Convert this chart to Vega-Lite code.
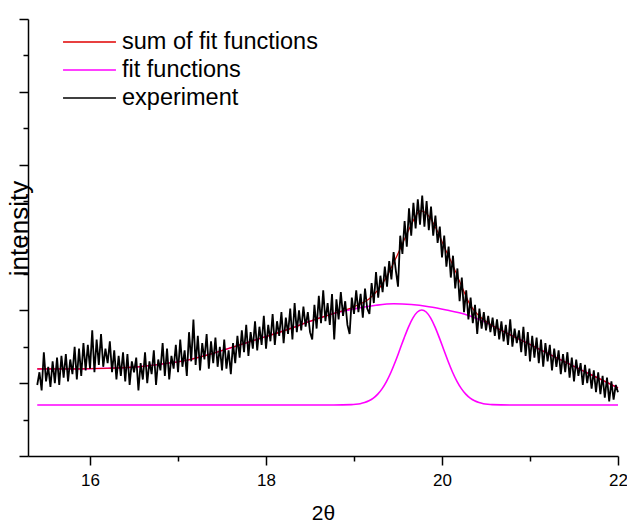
{
"$schema": "https://vega.github.io/schema/vega-lite/v6.json",
"width": 590, "height": 437,
"autosize": "none",
"padding": {"left": 28, "top": 19, "right": 9, "bottom": 67},
"background": "white",
"config": {
  "view": {"stroke": null},
  "font": "Liberation Sans",
  "axis": {"grid": false, "domainColor": "black", "tickColor": "black", "labelColor": "black", "titleColor": "black", "domainWidth": 1.5, "tickWidth": 1.5, "titleFontWeight": "normal", "labelFont": "Liberation Sans", "titleFont": "Liberation Sans"}
},
"datasets": {
  "broad": [
    {"x":15.40,"y":2.39},{"x":15.80,"y":2.39},{"x":16.20,"y":2.41},{"x":16.50,"y":2.44},{"x":16.80,"y":2.52},{"x":17.10,"y":2.63},{"x":17.40,"y":2.82},{"x":17.70,"y":3.05},{"x":18.00,"y":3.28},{"x":18.30,"y":3.52},{"x":18.50,"y":3.70},{"x":18.75,"y":3.90},{"x":19.00,"y":4.04},{"x":19.25,"y":4.14},{"x":19.45,"y":4.18},{"x":19.65,"y":4.16},{"x":19.85,"y":4.10},{"x":20.05,"y":4.01},{"x":20.25,"y":3.90},{"x":20.43,"y":3.74},{"x":20.70,"y":3.42},{"x":21.00,"y":3.06},{"x":21.30,"y":2.70},{"x":21.60,"y":2.34},{"x":21.80,"y":2.11},{"x":22.00,"y":1.87}
  ],
  "narrow": [
    {"x":15.40,"y":1.40},{"x":18.77,"y":1.40},{"x":18.97,"y":1.41},{"x":19.02,"y":1.42},{"x":19.07,"y":1.437},{"x":19.12,"y":1.467},{"x":19.17,"y":1.515},{"x":19.22,"y":1.589},{"x":19.27,"y":1.698},{"x":19.32,"y":1.850},{"x":19.37,"y":2.051},{"x":19.42,"y":2.301},{"x":19.47,"y":2.595},{"x":19.52,"y":2.917},{"x":19.57,"y":3.244},{"x":19.62,"y":3.547},{"x":19.67,"y":3.793},{"x":19.72,"y":3.954},{"x":19.77,"y":4.01},{"x":19.82,"y":3.954},{"x":19.87,"y":3.793},{"x":19.92,"y":3.547},{"x":19.97,"y":3.244},{"x":20.02,"y":2.917},{"x":20.07,"y":2.595},{"x":20.12,"y":2.301},{"x":20.17,"y":2.051},{"x":20.22,"y":1.850},{"x":20.27,"y":1.698},{"x":20.32,"y":1.589},{"x":20.37,"y":1.515},{"x":20.42,"y":1.467},{"x":20.47,"y":1.437},{"x":20.52,"y":1.42},{"x":20.57,"y":1.41},{"x":20.77,"y":1.40},{"x":22.00,"y":1.40}
  ],
  "sum": [
    {"x":15.40,"y":2.39},{"x":15.80,"y":2.39},{"x":16.20,"y":2.41},{"x":16.50,"y":2.44},{"x":16.80,"y":2.52},{"x":17.10,"y":2.63},{"x":17.40,"y":2.82},{"x":17.70,"y":3.05},{"x":18.00,"y":3.28},{"x":18.30,"y":3.52},{"x":18.50,"y":3.70},{"x":18.75,"y":3.90},{"x":19.00,"y":4.10},{"x":19.18,"y":4.33},{"x":19.28,"y":4.58},{"x":19.37,"y":4.92},{"x":19.47,"y":5.40},{"x":19.56,"y":5.88},{"x":19.65,"y":6.35},{"x":19.70,"y":6.58},{"x":19.75,"y":6.73},{"x":19.80,"y":6.70},{"x":19.87,"y":6.52},{"x":19.94,"y":6.21},{"x":20.03,"y":5.72},{"x":20.13,"y":5.20},{"x":20.22,"y":4.68},{"x":20.32,"y":4.15},{"x":20.42,"y":3.85},{"x":20.52,"y":3.66},{"x":20.70,"y":3.42},{"x":21.00,"y":3.06},{"x":21.30,"y":2.70},{"x":21.60,"y":2.34},{"x":21.80,"y":2.11},{"x":22.00,"y":1.87}
  ],
  "exp": [
    {"x":15.400,"y":1.95},{"x":15.425,"y":2.30},{"x":15.450,"y":1.80},{"x":15.475,"y":2.85},{"x":15.500,"y":2.05},{"x":15.525,"y":2.45},{"x":15.550,"y":1.90},{"x":15.575,"y":2.60},{"x":15.600,"y":2.00},{"x":15.625,"y":2.70},
    {"x":15.650,"y":1.95},{"x":15.675,"y":2.75},{"x":15.700,"y":2.15},{"x":15.725,"y":2.80},{"x":15.750,"y":2.05},{"x":15.775,"y":2.65},{"x":15.800,"y":2.25},{"x":15.825,"y":3.00},{"x":15.850,"y":2.10},{"x":15.875,"y":2.95},
    {"x":15.900,"y":2.20},{"x":15.925,"y":3.10},{"x":15.950,"y":2.35},{"x":15.975,"y":3.05},{"x":16.000,"y":2.40},{"x":16.025,"y":3.45},{"x":16.050,"y":2.30},{"x":16.075,"y":3.20},{"x":16.100,"y":2.50},{"x":16.125,"y":3.35},
    {"x":16.150,"y":2.45},{"x":16.175,"y":2.95},{"x":16.200,"y":2.55},{"x":16.225,"y":3.15},{"x":16.250,"y":2.30},{"x":16.275,"y":2.90},{"x":16.300,"y":2.10},{"x":16.325,"y":2.75},{"x":16.350,"y":2.20},{"x":16.375,"y":2.85},
    {"x":16.400,"y":2.05},{"x":16.425,"y":2.80},{"x":16.450,"y":1.95},{"x":16.475,"y":2.60},{"x":16.500,"y":2.30},{"x":16.525,"y":2.70},{"x":16.550,"y":1.80},{"x":16.575,"y":2.55},{"x":16.600,"y":2.10},{"x":16.625,"y":2.85},
    {"x":16.650,"y":2.00},{"x":16.675,"y":2.60},{"x":16.700,"y":2.25},{"x":16.725,"y":2.90},{"x":16.750,"y":1.95},{"x":16.775,"y":2.65},{"x":16.800,"y":2.35},{"x":16.825,"y":3.10},{"x":16.850,"y":2.20},{"x":16.875,"y":2.95},
    {"x":16.900,"y":2.10},{"x":16.925,"y":2.75},{"x":16.950,"y":2.40},{"x":16.975,"y":3.05},{"x":17.000,"y":2.30},{"x":17.025,"y":3.20},{"x":17.050,"y":2.45},{"x":17.075,"y":2.90},{"x":17.100,"y":2.20},{"x":17.125,"y":3.40},
    {"x":17.150,"y":2.60},{"x":17.175,"y":3.75},{"x":17.200,"y":2.50},{"x":17.225,"y":3.30},{"x":17.250,"y":2.35},{"x":17.275,"y":3.10},{"x":17.300,"y":2.65},{"x":17.325,"y":3.35},{"x":17.350,"y":2.40},{"x":17.375,"y":3.15},
    {"x":17.400,"y":2.55},{"x":17.425,"y":3.25},{"x":17.450,"y":2.45},{"x":17.475,"y":3.00},{"x":17.500,"y":2.35},{"x":17.525,"y":3.20},{"x":17.550,"y":2.40},{"x":17.575,"y":2.90},{"x":17.600,"y":2.25},{"x":17.625,"y":3.10},
    {"x":17.650,"y":2.55},{"x":17.675,"y":3.30},{"x":17.700,"y":2.70},{"x":17.725,"y":3.45},{"x":17.750,"y":2.85},{"x":17.775,"y":3.60},{"x":17.800,"y":2.75},{"x":17.825,"y":3.40},{"x":17.850,"y":2.95},{"x":17.875,"y":3.70},
    {"x":17.900,"y":2.90},{"x":17.925,"y":3.55},{"x":17.950,"y":3.05},{"x":17.975,"y":3.85},{"x":18.000,"y":2.95},{"x":18.025,"y":3.60},{"x":18.050,"y":3.15},{"x":18.075,"y":3.90},{"x":18.100,"y":3.05},{"x":18.125,"y":3.70},
    {"x":18.150,"y":3.30},{"x":18.175,"y":3.95},{"x":18.200,"y":3.10},{"x":18.225,"y":3.80},{"x":18.250,"y":3.35},{"x":18.275,"y":4.05},{"x":18.300,"y":3.20},{"x":18.325,"y":4.20},{"x":18.350,"y":3.40},{"x":18.375,"y":4.00},
    {"x":18.400,"y":3.45},{"x":18.425,"y":4.10},{"x":18.450,"y":3.55},{"x":18.475,"y":3.95},{"x":18.500,"y":3.40},{"x":18.525,"y":3.20},{"x":18.550,"y":4.15},{"x":18.575,"y":3.50},{"x":18.600,"y":4.40},{"x":18.625,"y":3.65},
    {"x":18.650,"y":4.55},{"x":18.675,"y":3.70},{"x":18.700,"y":4.20},{"x":18.725,"y":3.60},{"x":18.750,"y":4.45},{"x":18.775,"y":3.20},{"x":18.800,"y":4.30},{"x":18.825,"y":3.75},{"x":18.850,"y":4.50},{"x":18.875,"y":3.85},
    {"x":18.900,"y":4.25},{"x":18.925,"y":3.60},{"x":18.950,"y":3.35},{"x":18.975,"y":4.35},{"x":19.000,"y":3.90},{"x":19.025,"y":4.55},{"x":19.050,"y":3.95},{"x":19.075,"y":4.45},{"x":19.100,"y":3.80},{"x":19.125,"y":4.60},
    {"x":19.150,"y":4.05},{"x":19.175,"y":3.90},{"x":19.200,"y":4.75},{"x":19.225,"y":4.20},{"x":19.250,"y":5.05},{"x":19.275,"y":4.35},{"x":19.300,"y":4.95},{"x":19.325,"y":4.50},{"x":19.350,"y":5.20},{"x":19.375,"y":4.65},
    {"x":19.400,"y":5.35},{"x":19.425,"y":4.85},{"x":19.450,"y":5.60},{"x":19.475,"y":5.10},{"x":19.500,"y":4.65},{"x":19.525,"y":6.05},{"x":19.550,"y":5.55},{"x":19.575,"y":6.45},{"x":19.600,"y":5.75},{"x":19.625,"y":6.80},
    {"x":19.650,"y":6.05},{"x":19.675,"y":6.95},{"x":19.700,"y":6.25},{"x":19.725,"y":7.05},{"x":19.750,"y":6.35},{"x":19.775,"y":7.15},{"x":19.800,"y":6.30},{"x":19.825,"y":7.00},{"x":19.850,"y":6.20},{"x":19.875,"y":6.85},
    {"x":19.900,"y":6.05},{"x":19.925,"y":6.60},{"x":19.950,"y":5.85},{"x":19.975,"y":6.30},{"x":20.000,"y":5.45},{"x":20.025,"y":6.05},{"x":20.050,"y":5.20},{"x":20.075,"y":5.75},{"x":20.100,"y":4.90},{"x":20.125,"y":5.50},
    {"x":20.150,"y":4.60},{"x":20.175,"y":5.15},{"x":20.200,"y":4.25},{"x":20.225,"y":4.90},{"x":20.250,"y":3.95},{"x":20.275,"y":4.55},{"x":20.300,"y":3.75},{"x":20.325,"y":4.35},{"x":20.350,"y":3.65},{"x":20.375,"y":4.15},
    {"x":20.400,"y":3.35},{"x":20.425,"y":4.05},{"x":20.450,"y":3.50},{"x":20.475,"y":3.95},{"x":20.500,"y":3.45},{"x":20.525,"y":3.85},{"x":20.550,"y":3.40},{"x":20.575,"y":3.80},{"x":20.600,"y":3.30},{"x":20.625,"y":3.75},
    {"x":20.650,"y":3.20},{"x":20.675,"y":3.70},{"x":20.700,"y":3.15},{"x":20.725,"y":3.60},{"x":20.750,"y":3.05},{"x":20.775,"y":3.75},{"x":20.800,"y":3.00},{"x":20.825,"y":3.50},{"x":20.850,"y":3.10},{"x":20.875,"y":3.45},
    {"x":20.900,"y":2.85},{"x":20.925,"y":3.55},{"x":20.950,"y":2.75},{"x":20.975,"y":3.40},{"x":21.000,"y":2.60},{"x":21.025,"y":3.30},{"x":21.050,"y":2.70},{"x":21.075,"y":3.25},{"x":21.100,"y":2.55},{"x":21.125,"y":3.20},
    {"x":21.150,"y":2.45},{"x":21.175,"y":3.10},{"x":21.200,"y":2.60},{"x":21.225,"y":3.05},{"x":21.250,"y":2.35},{"x":21.275,"y":2.95},{"x":21.300,"y":2.45},{"x":21.325,"y":2.90},{"x":21.350,"y":2.25},{"x":21.375,"y":2.80},
    {"x":21.400,"y":2.30},{"x":21.425,"y":2.85},{"x":21.450,"y":2.15},{"x":21.475,"y":2.70},{"x":21.500,"y":2.05},{"x":21.525,"y":2.65},{"x":21.550,"y":2.20},{"x":21.575,"y":2.55},{"x":21.600,"y":1.95},{"x":21.625,"y":2.50},
    {"x":21.650,"y":2.00},{"x":21.675,"y":2.40},{"x":21.700,"y":1.85},{"x":21.725,"y":2.35},{"x":21.750,"y":1.75},{"x":21.775,"y":2.30},{"x":21.800,"y":1.70},{"x":21.825,"y":2.20},{"x":21.850,"y":1.60},{"x":21.875,"y":2.15},
    {"x":21.900,"y":1.50},{"x":21.925,"y":2.05},{"x":21.950,"y":1.55},{"x":21.975,"y":1.95},{"x":22.000,"y":1.75}
  ]
},
"encoding": {
  "x": {"field": "x", "type": "quantitative",
    "scale": {"domain": [15.295, 22], "nice": false, "zero": false},
    "axis": {"values": [16,17,18,19,20,21,22], "labelExpr": "datum.value % 2 === 0 ? datum.label : ''",
      "tickSize": {"condition": {"test": "datum.value % 2 === 0", "value": 9}, "value": 5},
      "labelFontSize": 17, "labelPadding": 7, "labelFlush": false, "labelOverlap": false,
      "title": "2θ", "titleFontSize": 21, "titlePadding": 14}},
  "y": {"field": "y", "type": "quantitative",
    "scale": {"domain": [0, 12], "nice": false, "zero": false},
    "axis": {"values": [0,1,2,3,4,5,6,7,8,9,10,11,12], "labels": false,
      "tickSize": {"condition": {"test": "datum.value % 2 === 0", "value": 9}, "value": 5},
      "title": "intensity", "titleFontSize": 26, "titlePadding": -14, "titleY": 209}}
},
"layer": [
  {"data": {"name": "broad"}, "mark": {"type": "line", "strokeWidth": 1.6, "interpolate": "monotone"},
   "encoding": {"color": {"datum": "fit functions", "type": "nominal",
     "scale": {"domain": ["sum of fit functions", "fit functions", "experiment"], "range": ["#e00000", "#ff00ff", "#000000"]},
     "legend": {"title": null, "orient": "none", "legendX": 34, "legendY": 9, "symbolType": "stroke", "symbolSize": 2800, "symbolStrokeWidth": 1.5, "labelFontSize": 23.5, "labelFont": "Liberation Sans", "labelColor": "black", "labelOffset": 5, "labelLimit": 0, "padding": 0, "rowPadding": 0, "clipHeight": 28}}}},
  {"data": {"name": "narrow"}, "mark": {"type": "line", "strokeWidth": 1.6, "interpolate": "monotone"},
   "encoding": {"color": {"datum": "fit functions", "type": "nominal"}}},
  {"data": {"name": "sum"}, "mark": {"type": "line", "strokeWidth": 1.2, "interpolate": "monotone"},
   "encoding": {"color": {"datum": "sum of fit functions", "type": "nominal"}}},
  {"data": {"name": "exp"}, "mark": {"type": "line", "strokeWidth": 1.8},
   "encoding": {"color": {"datum": "experiment", "type": "nominal"}}}
]
}
